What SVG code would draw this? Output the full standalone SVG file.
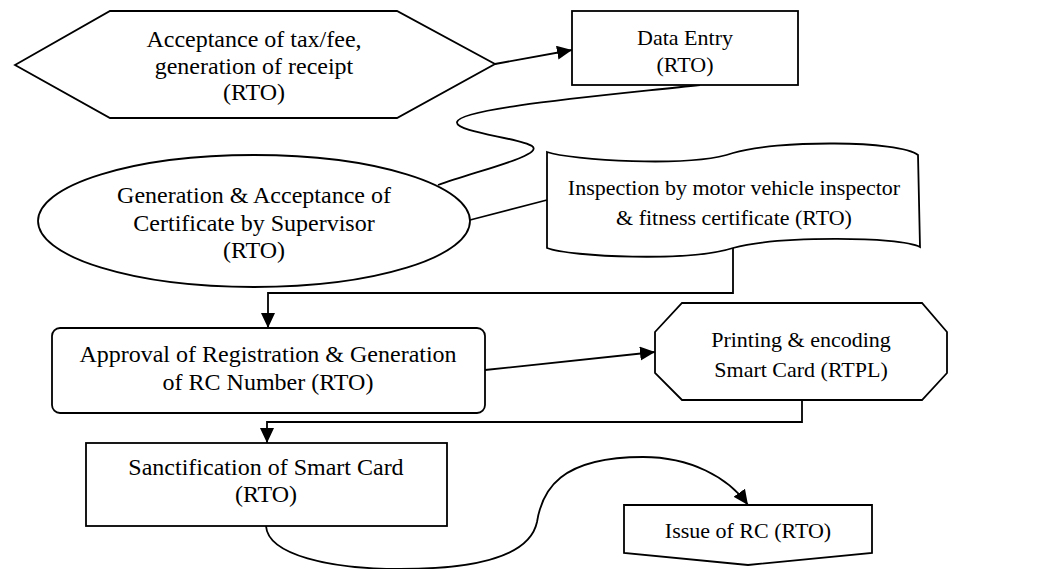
<svg xmlns="http://www.w3.org/2000/svg" width="1038" height="569" viewBox="0 0 1038 569" font-family="'Liberation Serif', 'Times New Roman', Times, serif">
<defs>
<marker id="arr" markerUnits="userSpaceOnUse" markerWidth="16" markerHeight="16" refX="15" refY="7" orient="auto">
<path d="M0,0 L15,7 L0,14 Z" fill="#000"/>
</marker>
<style>
.n{fill:#fff;stroke:#000;stroke-width:1.8}
.c{fill:none;stroke:#000;stroke-width:1.8}
text{fill:#000;text-anchor:middle}
.l{font-size:24px}
.s{font-size:22px}
</style>
</defs>
<rect width="1038" height="569" fill="#fff"/>
<g id="connectors">
<path class="c" d="M495,64 L572,50" marker-end="url(#arr)"/>
<path class="c" d="M700,85 C600,96 460,108 457,122 C455,132 520,138 532,146 C545,155 480,170 438,185"/>
<path class="c" d="M470,220 L547,200"/>
<path class="c" d="M733,248 L733,293 L268,293 L268,328" marker-end="url(#arr)"/>
<path class="c" d="M485,370 L655,352" marker-end="url(#arr)"/>
<path class="c" d="M802,400 L802,422 L267,422 L267,443" marker-end="url(#arr)"/>
<path class="c" d="M266,526 C268,555 330,569 400,569 C480,569 530,555 537,522 C542,490 560,457 643,457 C690,457 728,477 748,505" marker-end="url(#arr)"/>
</g>
<g id="acceptance">
<polygon class="n" points="15,65 110,11 397,11 495,64 397,118 110,118"/>
<text class="l" x="254" y="47">Acceptance of tax/fee,</text>
<text class="l" x="254" y="74">generation of receipt</text>
<text class="l" x="254" y="100">(RTO)</text>
</g>
<g id="data-entry">
<rect class="n" x="572" y="11" width="226" height="74"/>
<text class="s" x="685" y="45">Data Entry</text>
<text class="s" x="685" y="72">(RTO)</text>
</g>
<g id="generation">
<ellipse class="n" cx="254" cy="221" rx="216" ry="66"/>
<text class="l" x="254" y="203">Generation &amp; Acceptance of</text>
<text class="l" x="254" y="231">Certificate by Supervisor</text>
<text class="l" x="254" y="258">(RTO)</text>
</g>
<g id="inspection">
<path class="n" d="M547,152 C570,160 690,168 733,153 C775,140 900,140 918,155 L920,247 C900,236 775,236 733,248 C690,262 570,257 547,248 Z"/>
<text class="s" x="734" y="195">Inspection by motor vehicle inspector</text>
<text class="s" x="734" y="225">&amp; fitness certificate (RTO)</text>
</g>
<g id="approval">
<rect class="n" x="52" y="328" width="433" height="85" rx="8" ry="8"/>
<text class="l" x="268" y="362">Approval of Registration &amp; Generation</text>
<text class="l" x="268" y="390">of RC Number (RTO)</text>
</g>
<g id="printing">
<polygon class="n" points="682,303 922,303 947,332 947,373 922,400 682,400 655,373 655,332"/>
<text class="s" x="801" y="347">Printing &amp; encoding</text>
<text class="s" x="801" y="377">Smart Card (RTPL)</text>
</g>
<g id="sanctification">
<rect class="n" x="86" y="443" width="361" height="83"/>
<text class="l" x="266" y="475">Sanctification of Smart Card</text>
<text class="l" x="266" y="502">(RTO)</text>
</g>
<g id="issue">
<polygon class="n" points="624,505 872,505 872,553 748,565 624,553"/>
<text class="s" x="748" y="538">Issue of RC (RTO)</text>
</g>
</svg>
